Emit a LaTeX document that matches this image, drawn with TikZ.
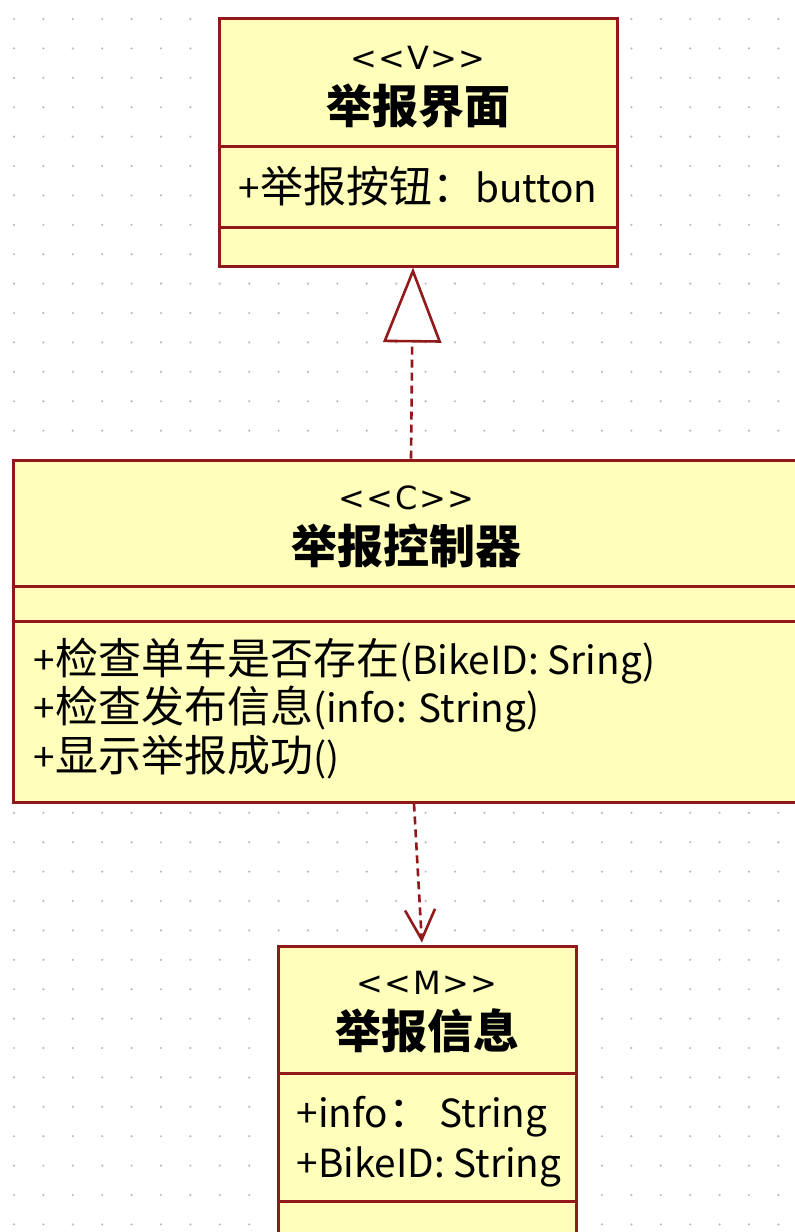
\documentclass[tikz,border=0pt]{standalone}
\usepackage{fontspec}
\setmainfont{Noto Sans CJK SC}
\newfontfamily\latinfont{Noto Sans CJK SC}[Scale=0.9]
\newfontfamily\stereofont{DejaVu Sans}[Ligatures=TeXOff,LetterSpace=5]
\newcommand\eng[1]{{\latinfont #1}}
\usetikzlibrary{arrows.meta}
\definecolor{umlred}{RGB}{145,25,25}
\definecolor{umlfill}{RGB}{255,255,187}
\definecolor{griddot}{RGB}{185,185,185}

\begin{document}
\begin{tikzpicture}[x=1pt,y=-1pt,
classbox/.style = {rectangle, draw=umlred, line width=3pt, fill=umlfill, inner sep=0pt},
stereo/.style = {font=\stereofont\fontsize{32}{32}\selectfont, inner sep=0pt, anchor=base},
title/.style = {font=\bfseries\fontsize{46}{46}\selectfont, inner sep=0pt, anchor=base},
member/.style = {font=\fontsize{43}{43}\selectfont, inner sep=0pt, anchor=base west},
divider/.style = {draw=umlred, line width=3pt},
dep/.style = {draw=umlred, line width=2.6pt, dash pattern=on 8pt off 5pt}]

\useasboundingbox (0,0) rectangle (795,1232);
\clip (0,0) rectangle (795,1232);

% dotted grid
\foreach \i in {0,...,26}
	\foreach \j in {0,...,41}
		\fill[griddot] (14+29.4*\i,19+29.4*\j) circle (1.2);

% classes
\node[classbox, minimum width=398, minimum height=248] (view) at (418,142) {};
\node[classbox, minimum width=787, minimum height=342] (ctrl) at (406.5,631) {};
\node[classbox, minimum width=298, minimum height=314] (info) at (427,1103) {};

\path[divider] ([yshift=-130pt]view.north west) -- ([yshift=-130pt]view.north east);
\path[divider] ([yshift=-211pt]view.north west) -- ([yshift=-211pt]view.north east);
\path[divider] ([yshift=-128pt]ctrl.north west) -- ([yshift=-128pt]ctrl.north east);
\path[divider] ([yshift=-163pt]ctrl.north west) -- ([yshift=-163pt]ctrl.north east);
\path[divider] ([yshift=-129pt]info.north west) -- ([yshift=-129pt]info.north east);
\path[divider] ([yshift=-257pt]info.north west) -- ([yshift=-257pt]info.north east);

% view
\node[stereo] (viewst) at ([yshift=-53pt]view.north) {<<V>>};
\node[title] (viewname) at ([yshift=-106.5pt]view.north) {举报界面};
\node[member] (viewbtn) at ([xshift=21pt,yshift=-186pt]view.north west) {\eng{+}举报按钮：\eng{button}};

% controller
\node[stereo] (ctrlst) at ([yshift=-51pt]ctrl.north) {<<C>>};
\node[title] (ctrlname) at ([yshift=-104.5pt]ctrl.north) {举报控制器};
\node[member] (ctrlop1) at ([xshift=22pt,yshift=-216pt]ctrl.north west) {\eng{+}检查单车是否存在\eng{(BikeID: Sring)}};
\node[member] (ctrlop2) at ([xshift=22pt,yshift=-264pt]ctrl.north west) {\eng{+}检查发布信息\eng{(info: String)}};
\node[member] (ctrlop3) at ([xshift=22pt,yshift=-313pt]ctrl.north west) {\eng{+}显示举报成功\eng{()}};

% model
\node[stereo] (infost) at ([yshift=-50pt]info.north) {<<M>>};
\node[title] (infoname) at ([yshift=-103.5pt]info.north) {举报信息};
\node[member] (infoat1) at ([xshift=20pt,yshift=-183pt]info.north west) {\eng{+info}：\eng{ String}};
\node[member] (infoat2) at ([xshift=20pt,yshift=-233pt]info.north west) {\eng{+BikeID: String}};

% relations
\path[dep, -{Triangle[length=75pt,width=58pt,fill=white]}] ([xshift=4.5pt]ctrl.north) -- ([xshift=-5pt]view.south);
\path[dep, shorten >=2pt, -{Straight Barb[length=30pt,width=30pt]}] ([xshift=7.5pt]ctrl.south) -- ([xshift=-5pt]info.north);

\end{tikzpicture}
\end{document}
